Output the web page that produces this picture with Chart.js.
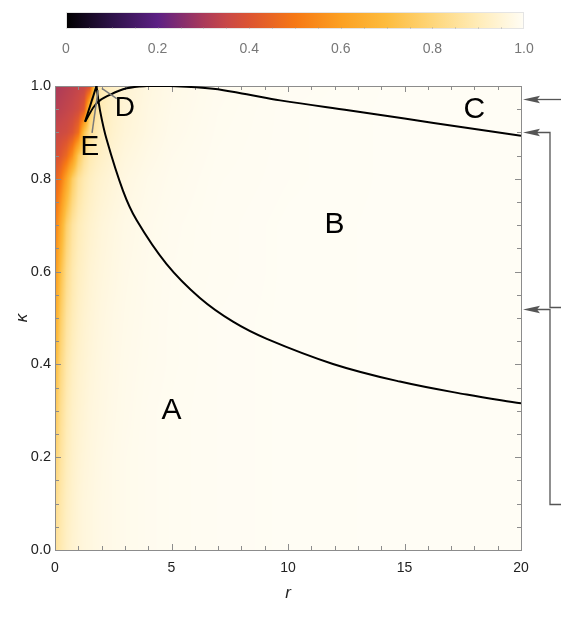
<!DOCTYPE html>
<html lang="en">
<head>
<meta charset="UTF-8">
<title>Density plot r / kappa</title>
<script src="https://cdn.jsdelivr.net/npm/chart.js"></script>
<style>
    body { margin: 0; background: #fff; }
    .wrap { position: relative; width: 561px; height: 621px; }
    .wrap canvas { position: absolute; left: 0; top: 0; }
</style>
</head>
<body>
<div class="wrap">
    <canvas id="plot" width="561" height="621"></canvas>
    <canvas id="colorbar" width="561" height="62"></canvas>
</div>
<script>
    // ticks
    const rTicks = [0, 5, 10, 15, 20];
    const kappaTicks = [0, 0.2, 0.4, 0.6, 0.8, 1.0];
    const barTicks = [0, 0.2, 0.4, 0.6, 0.8, 1.0];

    // density field (rows = kappa, cols = r)
    const fieldR = [0, 0.25, 0.5, 0.75, 1, 1.25, 1.5, 1.75, 2, 2.5, 3, 4, 5, 7, 10, 15, 20];
    const fieldK = [0, 0.1, 0.2, 0.3, 0.4, 0.5, 0.6, 0.7, 0.8, 0.85, 0.9, 0.95, 1.0];
    const fieldValues = [
        [0.85, 0.89, 0.92, 0.94, 0.95, 0.96, 0.965, 0.97, 0.975, 0.98, 0.985, 0.99, 0.993, 0.996, 0.998, 1, 1],
        [0.82, 0.88, 0.915, 0.935, 0.95, 0.96, 0.965, 0.97, 0.975, 0.98, 0.985, 0.99, 0.993, 0.996, 0.998, 1, 1],
        [0.78, 0.86, 0.905, 0.93, 0.945, 0.955, 0.962, 0.968, 0.973, 0.98, 0.985, 0.99, 0.993, 0.996, 0.998, 1, 1],
        [0.73, 0.84, 0.895, 0.925, 0.94, 0.95, 0.96, 0.965, 0.97, 0.978, 0.983, 0.99, 0.993, 0.996, 0.998, 1, 1],
        [0.68, 0.81, 0.88, 0.915, 0.935, 0.945, 0.955, 0.962, 0.968, 0.976, 0.982, 0.988, 0.992, 0.996, 0.998, 1, 1],
        [0.62, 0.77, 0.86, 0.90, 0.925, 0.94, 0.95, 0.958, 0.965, 0.974, 0.98, 0.987, 0.992, 0.996, 0.998, 1, 1],
        [0.56, 0.72, 0.83, 0.885, 0.915, 0.93, 0.945, 0.953, 0.96, 0.97, 0.978, 0.986, 0.991, 0.995, 0.998, 1, 1],
        [0.50, 0.64, 0.78, 0.86, 0.90, 0.92, 0.935, 0.945, 0.955, 0.966, 0.975, 0.984, 0.99, 0.995, 0.998, 1, 1],
        [0.43, 0.50, 0.62, 0.76, 0.85, 0.89, 0.915, 0.93, 0.94, 0.955, 0.967, 0.98, 0.987, 0.994, 0.997, 1, 1],
        [0.38, 0.41, 0.46, 0.56, 0.74, 0.84, 0.89, 0.91, 0.925, 0.945, 0.96, 0.975, 0.985, 0.993, 0.997, 1, 1],
        [0.35, 0.36, 0.37, 0.40, 0.47, 0.72, 0.84, 0.885, 0.91, 0.935, 0.952, 0.97, 0.982, 0.992, 0.997, 1, 1],
        [0.32, 0.33, 0.34, 0.35, 0.37, 0.42, 0.76, 0.86, 0.90, 0.93, 0.948, 0.968, 0.98, 0.991, 0.997, 1, 1],
        [0.30, 0.31, 0.32, 0.33, 0.34, 0.35, 0.38, 0.84, 0.89, 0.925, 0.945, 0.965, 0.978, 0.99, 0.996, 1, 1]
    ];

    // boundary curves
    const legR = [1.29, 1.78];
    const legK = [0.923, 1.0];
    const lowerR = [1.78, 1.93, 2.22, 2.92, 3.5, 4.79, 6.22, 7.64, 9.09, 11.93, 14.8, 17.67, 20];
    const lowerK = [1.0, 0.948, 0.884, 0.774, 0.711, 0.616, 0.543, 0.492, 0.455, 0.401, 0.363, 0.335, 0.316];
    const upperR = [1.29, 1.79, 2.36, 3.08, 3.94, 4.94, 6.78, 8.23, 9.66, 12.66, 15, 17.5, 20];
    const upperK = [0.923, 0.963, 0.981, 0.995, 1.0, 1.0, 0.994, 0.982, 0.969, 0.947, 0.93, 0.911, 0.893];

    // region labels
    const regionNames = ['A', 'B', 'C', 'D', 'E'];
    const regionR = [5.0, 12.0, 18.0, 3.0, 1.5];
    const regionK = [0.30, 0.70, 0.948, 0.953, 0.869];
    const pointerR = [[2.01, 2.65], [1.59, 1.85]];
    const pointerK = [[0.995, 0.973], [0.899, 0.991]];

    // arrows on the right edge
    const arrowTipK = [0.971, 0.901, 0.520];
    const bracketEndK = [null, 0.524, 0.099];

    const FONT = '"Liberation Sans", Arial, sans-serif';

    // colour scale (Sunset-like)
    const stops = [
        [0, 0, 0, 0], [0.1, 45, 18, 72], [0.2, 92, 32, 132], [0.3, 170, 58, 90],
        [0.35, 200, 72, 72], [0.4, 220, 84, 50], [0.5, 246, 120, 20], [0.6, 252, 160, 34],
        [0.7, 253, 188, 62], [0.8, 254, 214, 122], [0.9, 255, 236, 184], [1, 255, 253, 245]
    ];
    function sunset(v) {
        v = Math.max(0, Math.min(1, v));
        for (let i = 0; i < stops.length - 1; i++) {
            const a = stops[i], b = stops[i + 1];
            if (v <= b[0]) {
                const t = (v - a[0]) / (b[0] - a[0]);
                return [a[1] + t * (b[1] - a[1]), a[2] + t * (b[2] - a[2]), a[3] + t * (b[3] - a[3])];
            }
        }
        const l = stops[stops.length - 1];
        return [l[1], l[2], l[3]];
    }

    function locate(arr, v) {
        if (v <= arr[0]) return [0, 0];
        for (let i = 0; i < arr.length - 1; i++) {
            if (v <= arr[i + 1]) return [i, (v - arr[i]) / (arr[i + 1] - arr[i])];
        }
        return [arr.length - 2, 1];
    }

    const heatmapPlugin = {
        id: 'heatmap',
        beforeDatasetsDraw(chart) {
            const { ctx, chartArea: a, scales: { x, y } } = chart;
            const w = Math.round(a.right - a.left), h = Math.round(a.bottom - a.top);
            const off = document.createElement('canvas');
            off.width = w; off.height = h;
            const octx = off.getContext('2d');
            const img = octx.createImageData(w, h);
            const cols = [];
            for (let i = 0; i < w; i++) cols.push(locate(fieldR, x.getValueForPixel(a.left + i + 0.5)));
            for (let j = 0; j < h; j++) {
                const [kj, kt] = locate(fieldK, y.getValueForPixel(a.top + j + 0.5));
                const r0 = fieldValues[kj], r1 = fieldValues[kj + 1];
                for (let i = 0; i < w; i++) {
                    const [ci, ct] = cols[i];
                    const v0 = r0[ci] + ct * (r0[ci + 1] - r0[ci]);
                    const v1 = r1[ci] + ct * (r1[ci + 1] - r1[ci]);
                    const c = sunset(v0 + kt * (v1 - v0));
                    const p = (j * w + i) * 4;
                    img.data[p] = c[0]; img.data[p + 1] = c[1]; img.data[p + 2] = c[2]; img.data[p + 3] = 255;
                }
            }
            octx.putImageData(img, 0, 0);
            ctx.drawImage(off, a.left, a.top);

            // frame and inward ticks on all four sides
            ctx.save();
            ctx.strokeStyle = '#8c8c8c';
            ctx.lineWidth = 1;
            ctx.beginPath();
            for (let r = 0; r <= 20; r++) {
                const px = Math.round(x.getPixelForValue(r)) + 0.5;
                const len = r % 5 === 0 ? 6 : 4;
                ctx.moveTo(px, a.bottom); ctx.lineTo(px, a.bottom - len);
                ctx.moveTo(px, a.top); ctx.lineTo(px, a.top + len);
            }
            for (let n = 0; n <= 20; n++) {
                const py = Math.round(y.getPixelForValue(n * 0.05)) + 0.5;
                const len = n % 4 === 0 ? 6 : 4;
                ctx.moveTo(a.left, py); ctx.lineTo(a.left + len, py);
                ctx.moveTo(a.right, py); ctx.lineTo(a.right - len, py);
            }
            ctx.stroke();
            ctx.strokeRect(Math.round(a.left) + 0.5, Math.round(a.top) + 0.5,
                Math.round(a.right - a.left), Math.round(a.bottom - a.top));
            ctx.restore();
        },
        afterDatasetsDraw(chart) {
            const { ctx, scales: { x, y } } = chart;
            ctx.save();
            ctx.strokeStyle = '#7a7a7a';
            ctx.lineWidth = 1.5;
            pointerR.forEach((pr, i) => {
                ctx.beginPath();
                ctx.moveTo(x.getPixelForValue(pr[0]), y.getPixelForValue(pointerK[i][0]));
                ctx.lineTo(x.getPixelForValue(pr[1]), y.getPixelForValue(pointerK[i][1]));
                ctx.stroke();
            });
            ctx.fillStyle = '#000';
            ctx.textAlign = 'center';
            ctx.textBaseline = 'middle';
            regionNames.forEach((name, i) => {
                ctx.font = (i < 3 ? 30 : 28) + 'px ' + FONT;
                ctx.fillText(name, x.getPixelForValue(regionR[i]), y.getPixelForValue(regionK[i]));
            });
            ctx.restore();
        },
        afterDraw(chart) {
            const { ctx, chartArea: a, scales: { y } } = chart;
            const tipX = a.right + 2, elbowX = 550, endX = 561;
            ctx.save();
            ctx.strokeStyle = '#555';
            ctx.fillStyle = '#555';
            ctx.lineWidth = 1.3;
            arrowTipK.forEach((k, i) => {
                const py = Math.round(y.getPixelForValue(k)) + 0.5;
                ctx.beginPath();
                if (bracketEndK[i] === null) {
                    ctx.moveTo(endX, py); ctx.lineTo(tipX + 10, py);
                } else {
                    const py2 = Math.round(y.getPixelForValue(bracketEndK[i])) + 0.5;
                    ctx.moveTo(endX, py2); ctx.lineTo(elbowX, py2); ctx.lineTo(elbowX, py); ctx.lineTo(tipX + 10, py);
                }
                ctx.stroke();
                ctx.beginPath();
                ctx.moveTo(tipX, py);
                ctx.lineTo(tipX + 17, py - 3.8);
                ctx.lineTo(tipX + 14, py);
                ctx.lineTo(tipX + 17, py + 3.8);
                ctx.closePath();
                ctx.fill();
            });
            ctx.restore();
        }
    };

    const toPoints = (rs, ks) => rs.map((r, i) => ({ x: r, y: ks[i] }));
    const curveStyle = { showLine: true, pointRadius: 0, borderColor: '#000', borderWidth: 2, fill: false };

    new Chart(document.getElementById('plot'), {
        type: 'scatter',
        data: {
            datasets: [
                { ...curveStyle, data: toPoints(legR, legK) },
                { ...curveStyle, data: toPoints(lowerR, lowerK), tension: 0.4 },
                { ...curveStyle, data: toPoints(upperR, upperK), tension: 0.4 }
            ]
        },
        options: {
            responsive: false,
            animation: false,
            devicePixelRatio: 1,
            layout: { padding: { top: 86, right: 40, bottom: 0, left: 0 } },
            plugins: { legend: { display: false }, tooltip: { enabled: false } },
            scales: {
                x: {
                    type: 'linear', min: 0, max: 20,
                    afterBuildTicks: s => { s.ticks = rTicks.map(v => ({ value: v })); },
                    afterFit: s => { s.height = 71; },
                    grid: { display: false, drawTicks: false },
                    border: { display: false },
                    ticks: { color: '#222', padding: 10, font: { family: FONT, size: 14 }, callback: v => String(v) },
                    title: { display: true, text: 'r', color: '#222', padding: { top: 0, bottom: 18 },
                        font: { family: FONT, size: 17, style: 'italic' } }
                },
                y: {
                    type: 'linear', min: 0, max: 1,
                    afterBuildTicks: s => { s.ticks = kappaTicks.map(v => ({ value: v })); },
                    afterFit: s => { s.width = 55; },
                    grid: { display: false, drawTicks: false },
                    border: { display: false },
                    ticks: { color: '#222', padding: 4, font: { family: FONT, size: 14.5 }, callback: v => v.toFixed(1) },
                    title: { display: true, text: 'κ', color: '#222', padding: { top: 12, bottom: 0 },
                        font: { family: FONT, size: 17, style: 'italic' } }
                }
            }
        },
        plugins: [heatmapPlugin]
    });

    // colour bar above the plot
    const barPlugin = {
        id: 'bar',
        beforeDraw(chart) {
            const { ctx, chartArea: a, scales: { x } } = chart;
            const g = ctx.createLinearGradient(x.getPixelForValue(0), 0, x.getPixelForValue(1), 0);
            stops.forEach(s => g.addColorStop(s[0], `rgb(${s[1]},${s[2]},${s[3]})`));
            ctx.save();
            ctx.fillStyle = g;
            ctx.fillRect(a.left, a.top, a.right - a.left, a.bottom - a.top);
            ctx.strokeStyle = '#e4e4e4';
            ctx.lineWidth = 1;
            ctx.strokeRect(a.left + 0.5, a.top + 0.5, a.right - a.left - 1, a.bottom - a.top - 1);
            ctx.strokeStyle = 'rgba(150,150,150,0.35)';
            ctx.beginPath();
            for (let n = 1; n < 20; n++) {
                const px = Math.round(x.getPixelForValue(n * 0.05)) + 0.5;
                ctx.moveTo(px, a.bottom); ctx.lineTo(px, a.bottom - 2);
            }
            ctx.stroke();
            ctx.restore();
        }
    };

    new Chart(document.getElementById('colorbar'), {
        type: 'scatter',
        data: { datasets: [] },
        options: {
            responsive: false,
            animation: false,
            devicePixelRatio: 1,
            layout: { padding: { top: 12, right: 37, bottom: 0, left: 66 } },
            plugins: { legend: { display: false }, tooltip: { enabled: false } },
            scales: {
                x: {
                    type: 'linear', min: 0, max: 1,
                    afterBuildTicks: s => { s.ticks = barTicks.map(v => ({ value: v })); },
                    afterFit: s => { s.height = 33; },
                    grid: { display: false, drawTicks: false },
                    border: { display: false },
                    ticks: { color: '#777', padding: 12, font: { family: FONT, size: 14 },
                        callback: v => (v === 0 ? '0' : v.toFixed(1)) }
                },
                y: { display: false, min: 0, max: 1 }
            }
        },
        plugins: [barPlugin]
    });
</script>
</body>
</html>
